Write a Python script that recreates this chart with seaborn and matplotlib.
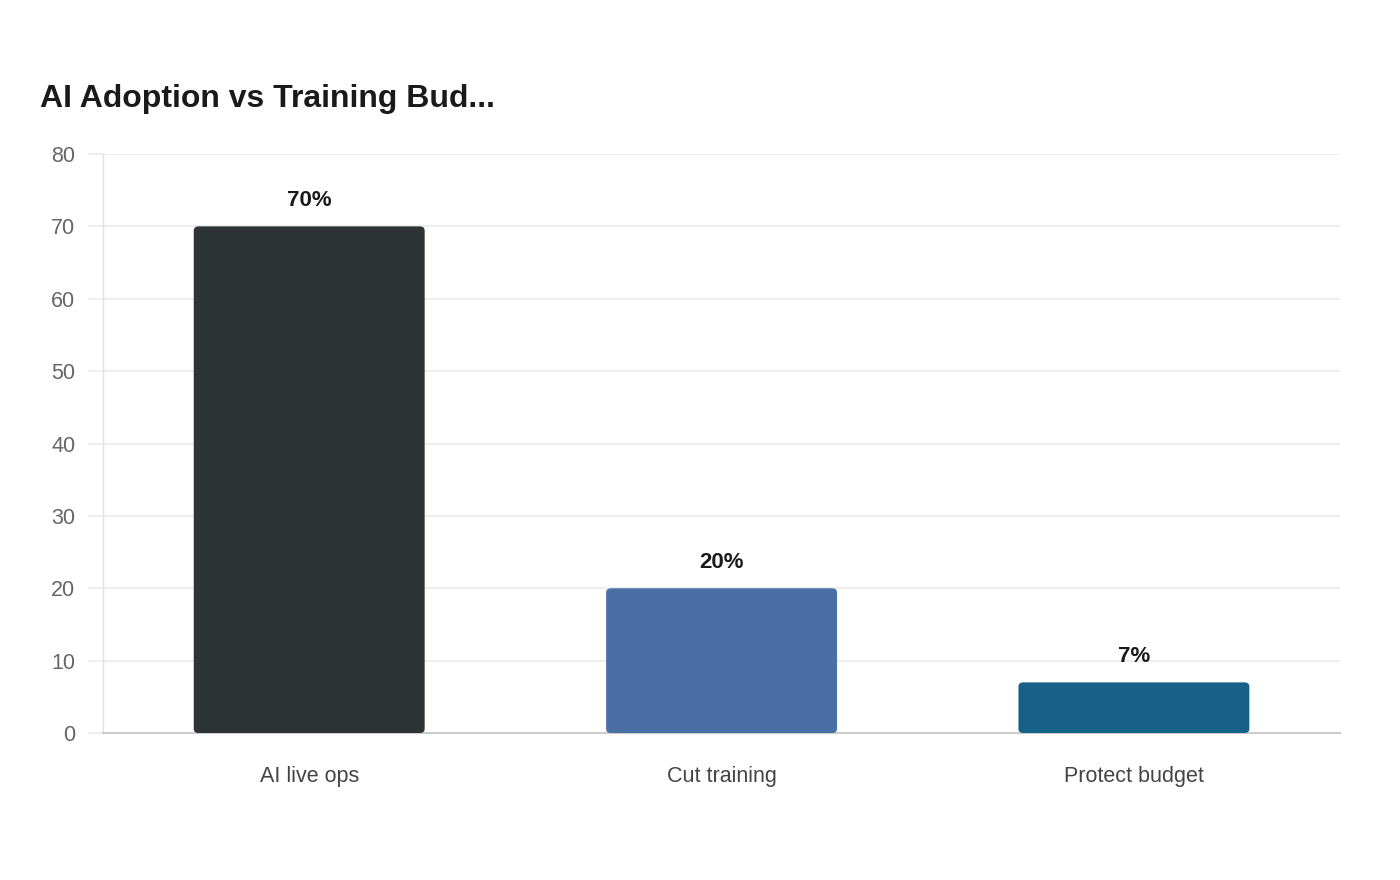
import matplotlib
matplotlib.use("Agg")
import matplotlib.pyplot as plt
import seaborn as sns
import pandas as pd
from matplotlib.patches import FancyBboxPatch

# Chart data
categories = ["AI live ops", "Cut training", "Protect budget"]
values = [70, 20, 7]
bar_colors = ["#2d3436", "#4a6fa5", "#176087"]
y_ticks = [0, 10, 20, 30, 40, 50, 60, 70, 80]
title = "AI Adoption vs Training Bud..."

df = pd.DataFrame({"category": categories, "value": values})

sns.set_theme(style="white")
plt.rcParams["font.family"] = ["Liberation Sans", "DejaVu Sans"]

fig = plt.figure(figsize=(14, 8.8), dpi=100)
ax = fig.add_axes([0.0736, 0.167, 0.8836, 0.658])

sns.barplot(data=df, x="category", y="value", hue="category",
            palette=bar_colors, saturation=1, width=0.56, ax=ax,
            legend=False, zorder=3)

# swap plain bars for ones with slightly rounded corners
for patch in list(ax.patches):
    x0, w, h = patch.get_x(), patch.get_width(), patch.get_height()
    col = patch.get_facecolor()
    patch.remove()
    ax.add_patch(FancyBboxPatch((x0, 0), w, h,
                                boxstyle="round,pad=0,rounding_size=0.012",
                                mutation_aspect=48, facecolor=col,
                                edgecolor="none", zorder=3))

for i, v in enumerate(values):
    ax.annotate(f"{v}%", (i, v), xytext=(0, 11), textcoords="offset points",
                ha="center", va="bottom", fontsize=16, fontweight="bold",
                color="#1a1a1a")

ax.set_xlim(-0.5, 2.5)
ax.set_ylim(0, 80)
ax.set_yticks(y_ticks)
ax.yaxis.grid(True, color="#ebebeb", linewidth=1.2, zorder=0)
ax.set_axisbelow(True)
ax.set_xlabel("")
ax.set_ylabel("")

ax.tick_params(axis="y", left=True, length=11, width=1.2, color="#ebebeb",
               pad=9, labelsize=15.5, labelcolor="#666666")
ax.tick_params(axis="x", bottom=True, length=0, pad=24, labelsize=15.5,
               labelcolor="#444444")

for s in ["top", "right"]:
    ax.spines[s].set_visible(False)
ax.spines["left"].set_color("#e0e0e0")
ax.spines["left"].set_linewidth(1)
ax.spines["bottom"].set_color("#cccccc")
ax.spines["bottom"].set_linewidth(1.5)

fig.text(40 / 1400, 1 - 107 / 880, title, fontsize=23, fontweight="bold",
         color="#1a1a1a", ha="left", va="baseline")

fig.savefig("out.png", dpi=100, facecolor="white")
